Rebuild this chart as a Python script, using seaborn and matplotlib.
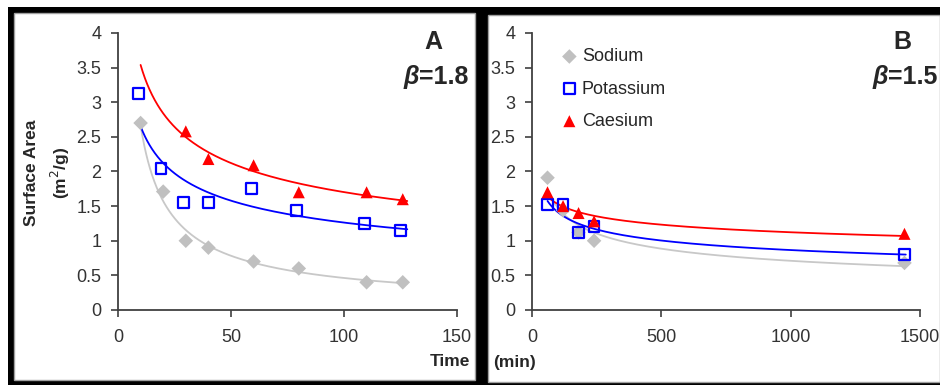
import numpy as np
import pandas as pd
import matplotlib
matplotlib.use("Agg")
import matplotlib.pyplot as plt
from matplotlib.patches import Rectangle
import seaborn as sns

# Panel A : short times
na_t_a = [10, 20, 30, 40, 60, 80, 110, 126]
na_s_a = [2.70, 1.71, 1.00, 0.90, 0.70, 0.60, 0.40, 0.40]
k_t_a = [9, 19, 29, 40, 59, 79, 109, 125]
k_s_a = [3.13, 2.04, 1.55, 1.55, 1.75, 1.44, 1.25, 1.15]
cs_t_a = [30, 40, 60, 80, 110, 126]
cs_s_a = [2.58, 2.18, 2.09, 1.70, 1.70, 1.60]

# Panel B : long times (min)
na_t_b = [60, 120, 180, 240, 1440]
na_s_b = [1.91, 1.44, 1.12, 1.00, 0.68]
k_t_b = [60, 120, 180, 240, 1440]
k_s_b = [1.52, 1.52, 1.12, 1.21, 0.80]
cs_t_b = [60, 120, 180, 240, 1440]
cs_s_b = [1.70, 1.50, 1.40, 1.28, 1.10]

series = ["Sodium", "Potassium", "Caesium"]
markers = {"Sodium": "D", "Potassium": "s", "Caesium": "^"}
colors = {"Sodium": "#c0c0c0", "Potassium": "#0000ff", "Caesium": "#ff0000"}
line_colors = {"Sodium": "#c8c8c8", "Potassium": "#0000ff", "Caesium": "#ff0000"}

panel_a = {"Sodium": (na_t_a, na_s_a), "Potassium": (k_t_a, k_s_a), "Caesium": (cs_t_a, cs_s_a)}
panel_b = {"Sodium": (na_t_b, na_s_b), "Potassium": (k_t_b, k_s_b), "Caesium": (cs_t_b, cs_s_b)}


def power_fit(t, s, t_lo, t_hi):
    # Excel-style power trendline  s = a * t^b
    b, ln_a = np.polyfit(np.log(t), np.log(s), 1)
    tt = np.geomspace(t_lo, t_hi, 200)
    return pd.DataFrame({"t": tt, "s": np.exp(ln_a) * tt ** b})


sns.set_theme(style="white")
plt.rcParams["font.family"] = ["Liberation Sans", "DejaVu Sans"]

W, H = 940, 385
fig = plt.figure(figsize=(W / 100, H / 100), dpi=100)

# black frames round the two panels
fig.patches.append(Rectangle((8 / W, 0), 1, (H - 7) / H, transform=fig.transFigure,
                             facecolor="black", edgecolor="none", zorder=-3))
for x0, y0, x1, y1 in [(14, 13, 475, 380), (488, 15, 940, 382)]:
    fig.patches.append(Rectangle((x0 / W, (H - y1) / H), (x1 - x0) / W, (y1 - y0) / H,
                                 transform=fig.transFigure, facecolor="white",
                                 edgecolor="#a0a0a0", linewidth=1, zorder=-2))


def make_axes(left_px, right_px):
    return fig.add_axes([left_px / W, (H - 310) / H, (right_px - left_px) / W, 277 / H])


ax_a = make_axes(118, 457)
ax_b = make_axes(532, 920)


def draw(ax, data, span, xmax, xticks):
    for name in series:
        t, s = data[name]
        fit = power_fit(t, s, *span)
        sns.lineplot(data=fit, x="t", y="s", ax=ax, color=line_colors[name], linewidth=1.3,
                     zorder=2)
    for name in series:
        t, s = data[name]
        df = pd.DataFrame({"t": t, "s": s})
        if name == "Potassium":
            sns.scatterplot(data=df, x="t", y="s", ax=ax, marker="s", s=60,
                            facecolor="none", edgecolor=colors[name], linewidth=1.6,
                            zorder=3, label=name)
        else:
            sns.scatterplot(data=df, x="t", y="s", ax=ax, marker=markers[name],
                            s=55 if name == "Sodium" else 75, color=colors[name],
                            edgecolor="none", zorder=3, label=name)
    ax.set_xlim(0, xmax)
    ax.set_ylim(0, 4)
    ax.set_xticks(xticks)
    ax.set_yticks(np.arange(0, 4.01, 0.5))
    ax.set_yticklabels(["0", "0.5", "1", "1.5", "2", "2.5", "3", "3.5", "4"])
    ax.set_xlabel("")
    ax.set_ylabel("")
    ax.patch.set_alpha(0)
    sns.despine(ax=ax)
    for sp in ("left", "bottom"):
        ax.spines[sp].set_color("#404040")
        ax.spines[sp].set_linewidth(1.3)
    ax.tick_params(axis="both", direction="out", length=5, width=1.2, color="#404040",
                   labelsize=13, labelcolor="#333333", left=True, bottom=True)
    ax.tick_params(axis="y", pad=7)
    ax.tick_params(axis="x", pad=9)


draw(ax_a, panel_a, (10, 128), 150, [0, 50, 100, 150])
draw(ax_b, panel_b, (60, 1445), 1500, [0, 500, 1000, 1500])
ax_a.get_legend().remove()

ax_b.legend(loc="upper left", bbox_to_anchor=(0.073, 0.945), frameon=False, fontsize=13,
            handletextpad=0.2, labelspacing=0.85, borderaxespad=0, borderpad=0,
            handlelength=1.0)

# panel letters and beta values
for ax, letter, beta, xr in [(ax_a, "A", "=1.8", 468), (ax_b, "B", "=1.5", 937)]:
    fig.text((xr - 35) / W, (H - 42) / H, letter, fontsize=18, fontweight="bold",
             ha="center", va="center")
    tb = fig.text(xr / W, (H - 77) / H, beta, fontsize=18, fontweight="bold",
                  ha="right", va="center")
    ax.annotate("β", xy=(0, 0.5), xycoords=tb, ha="right", va="center", fontsize=18,
                fontweight="bold", style="italic", annotation_clip=False)

# axis titles (split across the panels as in the original)
fig.text(32 / W, (H - 173) / H, "Surface Area", rotation=90, fontsize=12.5,
         fontweight="bold", ha="center", va="center")
fig.text(60 / W, (H - 173) / H, "(m$^2$/g)", rotation=90, fontsize=12.5,
         fontweight="bold", ha="center", va="center")
fig.text(470 / W, (H - 362) / H, "Time", fontsize=12.5, fontweight="bold",
         ha="right", va="center")
fig.text(493 / W, (H - 362) / H, "(min)", fontsize=12.5, fontweight="bold",
         ha="left", va="center")

fig.savefig("out.png", dpi=100)
